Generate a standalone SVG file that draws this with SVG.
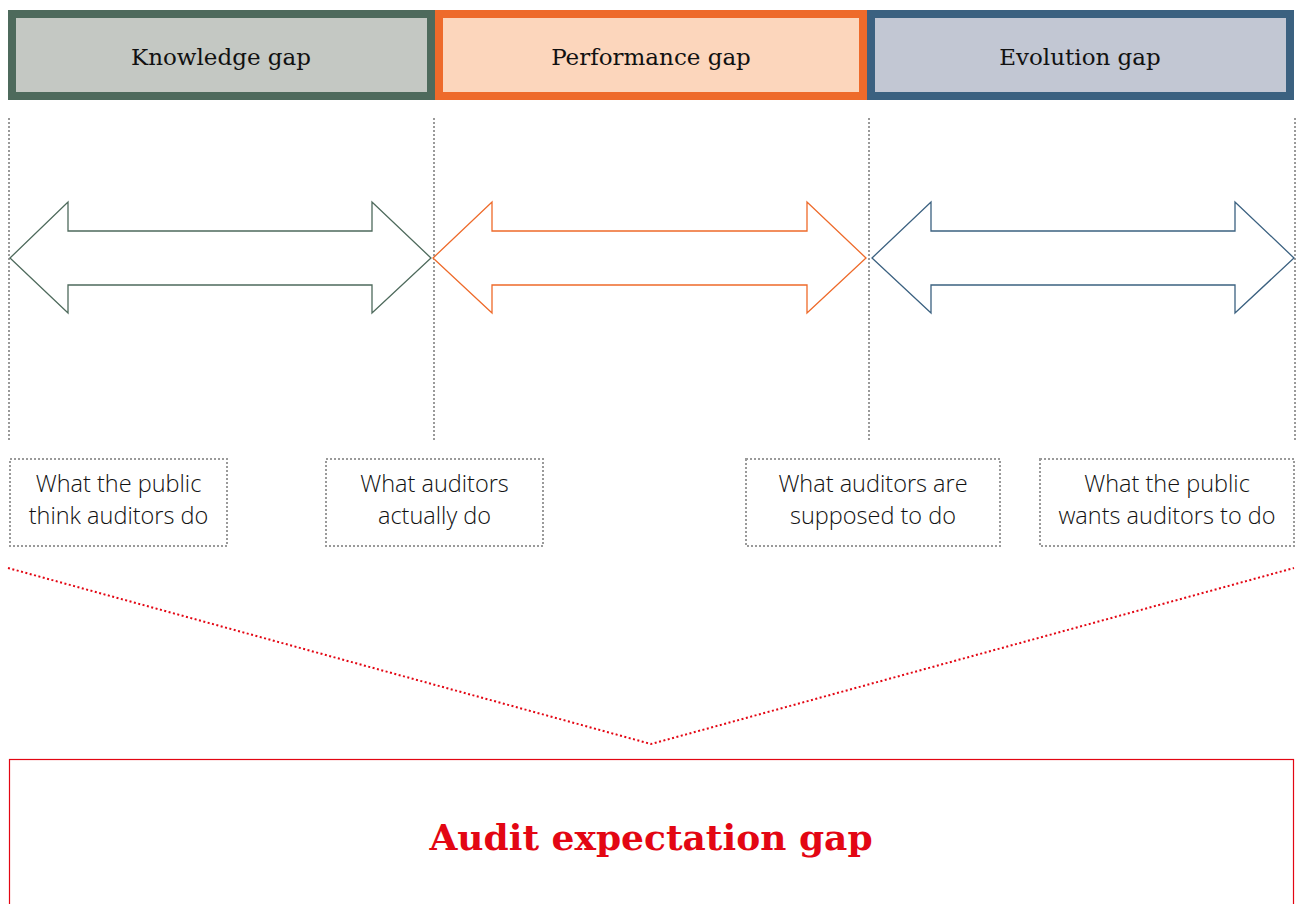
<svg xmlns="http://www.w3.org/2000/svg" width="1298" height="904" viewBox="0 0 1298 904">
<style>
.hdr{font-family:"DejaVu Serif","Liberation Serif",serif;font-size:23px;fill:#111;text-anchor:middle}
.lbl{font-family:"Open Sans","Noto Sans",sans-serif;font-weight:300;font-size:23.5px;fill:#111;text-anchor:middle}
.lbox{fill:none;stroke:#9a9a9a;stroke-width:2;stroke-dasharray:2 2}
.vline{stroke:#9a9a9a;stroke-width:2;stroke-dasharray:2 2}
.arrow{fill:#fff;stroke-width:1.3}
.title{font-family:"DejaVu Serif","Liberation Serif",serif;font-weight:bold;font-size:36px;fill:#e30613;text-anchor:middle}
</style>
<rect width="1298" height="904" fill="#fff"/>
<g id="knowledge-gap">
<rect x="12" y="14" width="419" height="82" fill="#c4c8c3" stroke="#4e6a5c" stroke-width="8"/>
<text class="hdr" x="221" y="65">Knowledge gap</text>
</g>
<g id="performance-gap">
<rect x="439" y="14" width="424" height="82" fill="#fcd6bc" stroke="#ee6a2a" stroke-width="8"/>
<text class="hdr" x="651" y="65">Performance gap</text>
</g>
<g id="evolution-gap">
<rect x="871" y="14" width="419" height="82" fill="#c2c7d3" stroke="#3b6180" stroke-width="8"/>
<text class="hdr" x="1080" y="65">Evolution gap</text>
</g>
<g id="guides">
<line class="vline" x1="9" y1="118" x2="9" y2="440"/>
<line class="vline" x1="434" y1="118" x2="434" y2="440"/>
<line class="vline" x1="869" y1="118" x2="869" y2="440"/>
<line class="vline" x1="1295" y1="118" x2="1295" y2="440"/>
</g>
<g id="connectors">
<polygon class="arrow" stroke="#4e6a5c" points="10,258 68,202 68,231 372,231 372,202 431,258 372,313 372,285 68,285 68,313"/>
<polygon class="arrow" stroke="#ee6a2a" points="433,258 492,202 492,231 807,231 807,202 866,258 807,313 807,285 492,285 492,313"/>
<polygon class="arrow" stroke="#3b6180" points="872,258 931,202 931,231 1235,231 1235,202 1294,258 1235,313 1235,285 931,285 931,313"/>
<polyline points="8,568 651,744 1294,568" fill="none" stroke="#e30613" stroke-width="2" stroke-dasharray="2 2.5"/>
</g>
<g id="public-think">
<rect class="lbox" x="10" y="459" width="217" height="87"/>
<text class="lbl" x="118.5" y="492">What the public</text>
<text class="lbl" x="118.5" y="524">think auditors do</text>
</g>
<g id="auditors-actually">
<rect class="lbox" x="326" y="459" width="217" height="87"/>
<text class="lbl" x="434.5" y="492">What auditors</text>
<text class="lbl" x="434.5" y="524">actually do</text>
</g>
<g id="auditors-supposed">
<rect class="lbox" x="746" y="459" width="254" height="87"/>
<text class="lbl" x="873" y="492">What auditors are</text>
<text class="lbl" x="873" y="524">supposed to do</text>
</g>
<g id="public-wants">
<rect class="lbox" x="1040" y="459" width="254" height="87"/>
<text class="lbl" x="1167" y="492">What the public</text>
<text class="lbl" x="1167" y="524">wants auditors to do</text>
</g>
<g id="audit-expectation-gap">
<rect x="9.5" y="759.5" width="1284" height="160" fill="none" stroke="#e30613" stroke-width="1.2"/>
<text class="title" x="651" y="850">Audit expectation gap</text>
</g>
</svg>
